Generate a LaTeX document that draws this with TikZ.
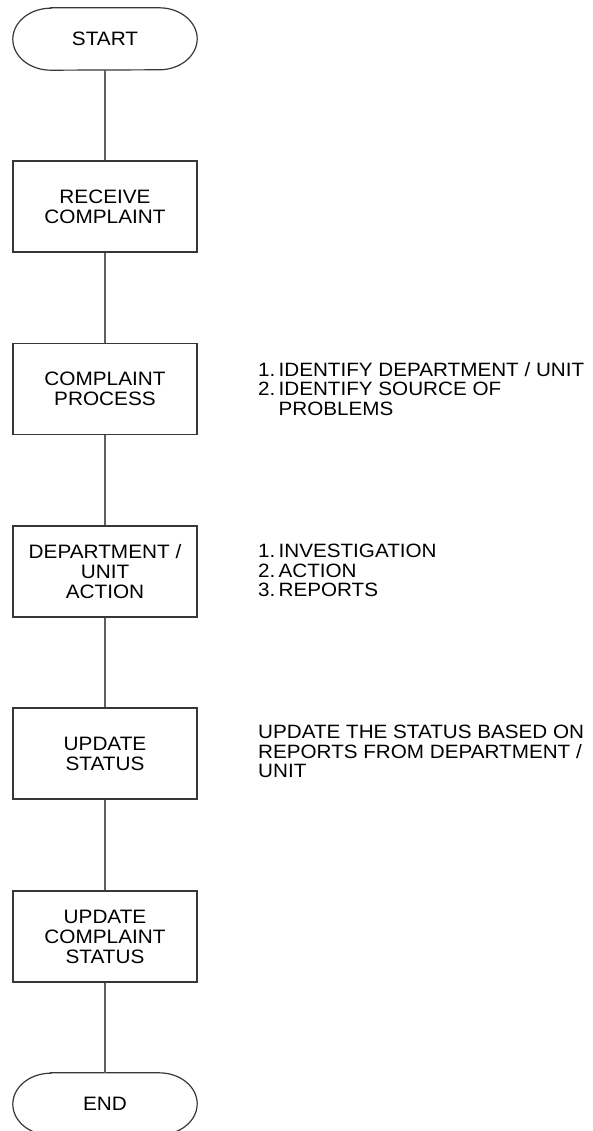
\documentclass[tikz,border=0pt]{standalone}
\usepackage{fontspec}
\setmainfont{Liberation Sans}[FakeStretch=1.07]
\definecolor{lineC}{RGB}{95,95,95}
\definecolor{boxC}{RGB}{55,55,55}
\tikzset{
  x=1pt, y=1pt,
  procbox/.style={draw=boxC, line width=1.2pt, minimum width=184pt, minimum height=91pt,
    align=center, font=\fontsize{19.4}{20}\selectfont, inner sep=0pt},
  termbox/.style={minimum width=184pt, minimum height=62pt, align=center,
    font=\fontsize{19.4}{20}\selectfont, inner sep=0pt},
  termline/.style={draw=boxC, line width=1.2pt},
  conn/.style={draw=lineC, line width=1.4pt},
  note/.style={anchor=west, align=left, inner sep=0pt, font=\fontsize{19.3}{19.5}\selectfont}
}
\begin{document}
\begin{tikzpicture}
\useasboundingbox (0,0) rectangle (592,-1131);
\clip (0,0) rectangle (592,-1131);
% nodes
\node[termbox] (start) at (105,-39) {START};
\node[procbox] (receive) at (105,-206.5) {RECEIVE\\COMPLAINT};
\node[procbox] (process) at (105,-389) {COMPLAINT\\PROCESS};
\node[procbox] (dept) at (105,-571.5) {DEPARTMENT /\\UNIT\\ACTION};
\node[procbox] (upd) at (105,-753.5) {UPDATE\\STATUS};
\node[procbox] (updc) at (105,-936.5) {UPDATE\\COMPLAINT\\STATUS};
\node[termbox] (end) at (105,-1104) {END};
% terminal outlines
\draw[termline] ([xshift=38pt]start.north west) -- ([xshift=-38pt]start.north east)
  arc[start angle=90, end angle=-90, x radius=38pt, y radius=31pt]
  -- ([xshift=38pt]start.south west)
  arc[start angle=270, end angle=90, x radius=38pt, y radius=31pt] -- cycle;
\draw[termline] ([xshift=38pt]end.north west) -- ([xshift=-38pt]end.north east)
  arc[start angle=90, end angle=-90, x radius=38pt, y radius=31pt]
  -- ([xshift=38pt]end.south west)
  arc[start angle=270, end angle=90, x radius=38pt, y radius=31pt] -- cycle;
% connectors
\draw[conn] (start.south) -- (receive.north);
\draw[conn] (receive.south) -- (process.north);
\draw[conn] (process.south) -- (dept.north);
\draw[conn] (dept.south) -- (upd.north);
\draw[conn] (upd.south) -- (updc.north);
\draw[conn] (updc.south) -- (end.north);
% notes
\node[note] (n1) at (258,-389) {1.\,IDENTIFY DEPARTMENT / UNIT\\2.\,IDENTIFY SOURCE OF\\\hphantom{2.\,}PROBLEMS};
\node[note] (n2) at (258,-570.5) {1.\,INVESTIGATION\\2.\,ACTION\\3.\,REPORTS};
\node[note] (n3) at (258,-751.5) {UPDATE THE STATUS BASED ON\\REPORTS FROM DEPARTMENT /\\UNIT};
\end{tikzpicture}
\end{document}
